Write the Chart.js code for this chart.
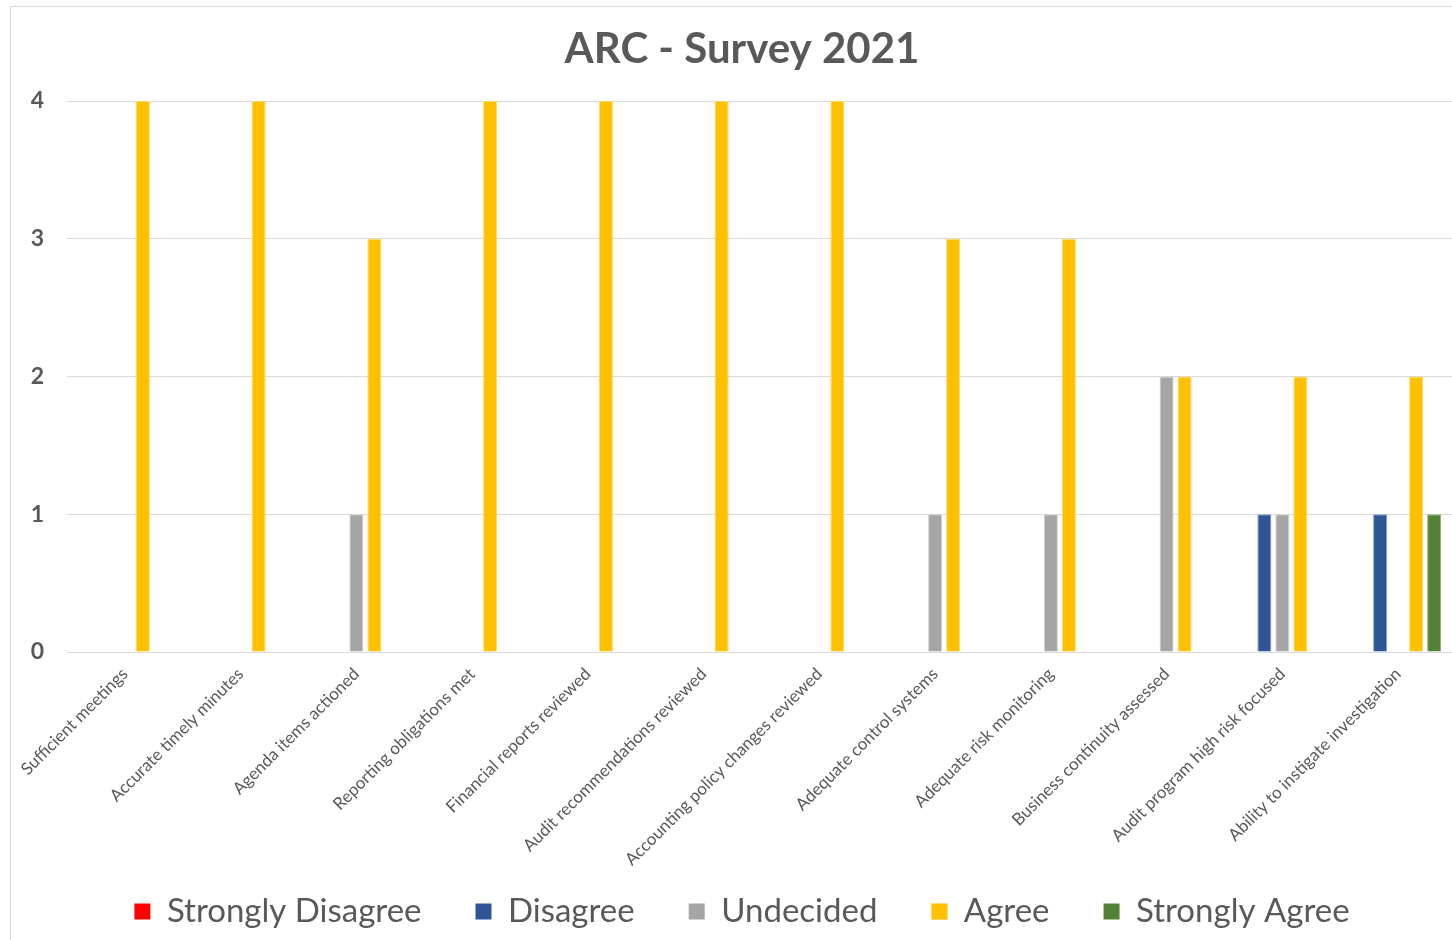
<!DOCTYPE html>
<html>
<head>
<meta charset="utf-8">
<script src="https://cdn.jsdelivr.net/npm/chart.js@4"></script>
<style>
  html, body { margin: 0; padding: 0; background: #fff; overflow: hidden; }
  #box {
    position: absolute; left: 10px; top: 6px;
    width: 1462px; height: 940px;
    border: 1px solid #d9d9d9;
  }
</style>
</head>
<body>
<div id="box"><canvas id="chart"></canvas></div>
<script>
const categories = [
  'Sufficient meetings', 'Accurate timely minutes', 'Agenda items actioned',
  'Reporting obligations met', 'Financial reports reviewed', 'Audit recommendations reviewed',
  'Accounting policy changes reviewed', 'Adequate control systems', 'Adequate risk monitoring',
  'Business continuity assessed', 'Audit program high risk focused', 'Ability to instigate investigation'
];
const stronglyDisagree = [0, 0, 0, 0, 0, 0, 0, 0, 0, 0, 0, 0];
const disagree         = [0, 0, 0, 0, 0, 0, 0, 0, 0, 0, 1, 1];
const undecided        = [0, 0, 1, 0, 0, 0, 0, 1, 1, 2, 1, 0];
const agree            = [4, 4, 3, 4, 4, 4, 4, 3, 3, 2, 2, 2];
const stronglyAgree    = [0, 0, 0, 0, 0, 0, 0, 0, 0, 0, 0, 1];
const yTicks = [0, 1, 2, 3, 4];

const text = '#595959';
const font = 'Lato, "Open Sans", sans-serif';

function series(label, data, fill, edge) {
  return {
    label, data,
    backgroundColor: fill,
    borderColor: edge,
    borderWidth: c => (c.raw ? 1 : 0),
    categoryPercentage: 0.778,
    barPercentage: 0.78
  };
}

new Chart(document.getElementById('chart'), {
  type: 'bar',
  data: {
    labels: categories,
    datasets: [
      series('Strongly Disagree', stronglyDisagree, '#ff0000', '#ff6666'),
      series('Disagree', disagree, '#2f5597', '#7f9cd0'),
      series('Undecided', undecided, '#a5a5a5', '#cfcfcf'),
      series('Agree', agree, '#ffc000', '#ffd966'),
      series('Strongly Agree', stronglyAgree, '#548235', '#8fb070')
    ]
  },
  options: {
    responsive: true,
    maintainAspectRatio: false,
    animation: false,
    layout: { padding: { left: 0, right: 0, top: 0, bottom: 9 } },
    plugins: {
      title: {
        display: true,
        text: 'ARC - Survey 2021',
        color: text,
        font: { family: font, size: 42, weight: 'bold' },
        padding: { top: 17, bottom: 26.6 }
      },
      legend: {
        position: 'bottom',
        labels: {
          color: text,
          font: { family: font, size: 33 },
          boxWidth: 16,
          boxHeight: 16,
          padding: 54
        }
      },
      tooltip: { enabled: false }
    },
    scales: {
      x: {
        grid: { display: false },
        border: { display: false },
        ticks: {
          color: text,
          font: { family: font, size: 17 },
          minRotation: 45,
          maxRotation: 45,
          padding: 4
        },
        afterFit: s => {
          s.height = 189;
          // let the long rotated labels run into the legend band, as in the original
          s._computeLabelArea = () => null;
        }
      },
      y: {
        min: 0,
        max: 4,
        afterBuildTicks: s => { s.ticks = yTicks.map(v => ({ value: v })); },
        grid: { color: '#d9d9d9', drawTicks: false },
        border: { display: false },
        ticks: {
          color: text,
          font: { family: font, size: 23, weight: 'bold' },
          padding: 23
        },
        afterFit: s => { s.width = 56; }
      },
      yRight: {
        position: 'right',
        grid: { display: false },
        border: { display: false },
        ticks: { display: false },
        afterFit: s => { s.width = 17; }
      }
    }
  }
});
</script>
</body>
</html>
